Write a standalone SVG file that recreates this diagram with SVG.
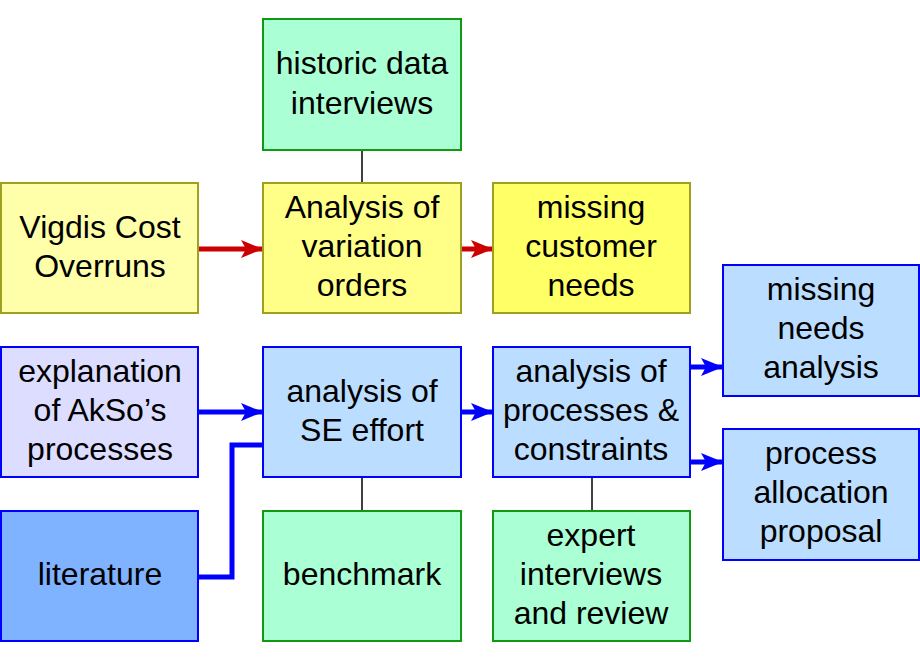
<svg xmlns="http://www.w3.org/2000/svg" width="920" height="660" viewBox="0 0 920 660">
<defs>
<style>
text{font-family:"Liberation Sans",Arial,sans-serif;font-size:32px;fill:#000;text-anchor:middle}
.g{fill:#AAFFD4;stroke:#119911;stroke-width:2}
.y1{fill:#FFFFAA;stroke:#A0A020;stroke-width:2}
.y2{fill:#FFFF88;stroke:#A0A020;stroke-width:2}
.y3{fill:#FFFF66;stroke:#A0A020;stroke-width:2}
.b{fill:#BBDDFF;stroke:#0000FF;stroke-width:2}
.l{fill:#DDDDFF;stroke:#0000FF;stroke-width:2}
.d{fill:#80B3FF;stroke:#0000FF;stroke-width:2}
.red{stroke:#CC0000;stroke-width:5;fill:none}
.blue{stroke:#0000FF;stroke-width:5;fill:none}
.thin{stroke:#000;stroke-width:1.5;fill:none}
</style>
<marker id="ar" markerUnits="userSpaceOnUse" markerWidth="22" markerHeight="18" refX="21" refY="9" orient="auto"><path d="M0,0L22,9L0,18L5,9Z" fill="#CC0000"/></marker>
<marker id="ab" markerUnits="userSpaceOnUse" markerWidth="22" markerHeight="18" refX="21" refY="9" orient="auto"><path d="M0,0L22,9L0,18L5,9Z" fill="#0000FF"/></marker>
</defs>
<g id="connectors">
<line class="thin" x1="362" y1="150" x2="362" y2="183"/>
<line class="thin" x1="362" y1="477" x2="362" y2="511"/>
<line class="thin" x1="592" y1="477" x2="592" y2="511"/>
<line class="red" x1="198" y1="249" x2="262" y2="249" marker-end="url(#ar)"/>
<line class="red" x1="461" y1="249" x2="492" y2="249" marker-end="url(#ar)"/>
<line class="blue" x1="198" y1="412" x2="262" y2="412" marker-end="url(#ab)"/>
<line class="blue" x1="461" y1="412" x2="492" y2="412" marker-end="url(#ab)"/>
<line class="blue" x1="690" y1="367" x2="722" y2="367" marker-end="url(#ab)"/>
<line class="blue" x1="690" y1="462" x2="722" y2="462" marker-end="url(#ab)"/>
<polyline class="blue" points="198,577 232,577 232,445 263,445"/>
</g>
<g id="historic"><rect class="g" x="263" y="19" width="198" height="131"/><text x="362" y="74">historic data</text><text x="362" y="113.5">interviews</text></g>
<g id="vigdis"><rect class="y1" x="1" y="183" width="197" height="130"/><text x="100" y="237.5">Vigdis Cost</text><text x="100" y="276.5">Overruns</text></g>
<g id="variation"><rect class="y2" x="263" y="183" width="198" height="130"/><text x="362" y="217.5">Analysis of</text><text x="362" y="256.5">variation</text><text x="362" y="295.5">orders</text></g>
<g id="missing-customer"><rect class="y3" x="493" y="183" width="197" height="130"/><text x="591" y="217.5">missing</text><text x="591" y="256.5">customer</text><text x="591" y="295.5">needs</text></g>
<g id="explanation"><rect class="l" x="1" y="347" width="197" height="130"/><text x="100" y="382">explanation</text><text x="100" y="421">of AkSo’s</text><text x="100" y="460">processes</text></g>
<g id="se-effort"><rect class="b" x="263" y="347" width="198" height="130"/><text x="362" y="401.5">analysis of</text><text x="362" y="440.5">SE effort</text></g>
<g id="processes"><rect class="b" x="493" y="347" width="197" height="130"/><text x="591" y="382">analysis of</text><text x="591" y="421">processes &amp;</text><text x="591" y="460">constraints</text></g>
<g id="missing-needs"><rect class="b" x="723" y="265" width="196" height="131"/><text x="821" y="300">missing</text><text x="821" y="339">needs</text><text x="821" y="378">analysis</text></g>
<g id="allocation"><rect class="b" x="723" y="429" width="196" height="131"/><text x="821" y="464">process</text><text x="821" y="503">allocation</text><text x="821" y="542">proposal</text></g>
<g id="literature"><rect class="d" x="1" y="511" width="197" height="130"/><text x="100" y="585">literature</text></g>
<g id="benchmark"><rect class="g" x="263" y="511" width="198" height="130"/><text x="362" y="585">benchmark</text></g>
<g id="expert"><rect class="g" x="493" y="511" width="197" height="130"/><text x="591" y="545.5">expert</text><text x="591" y="584.5">interviews</text><text x="591" y="623.5">and review</text></g>
</svg>
